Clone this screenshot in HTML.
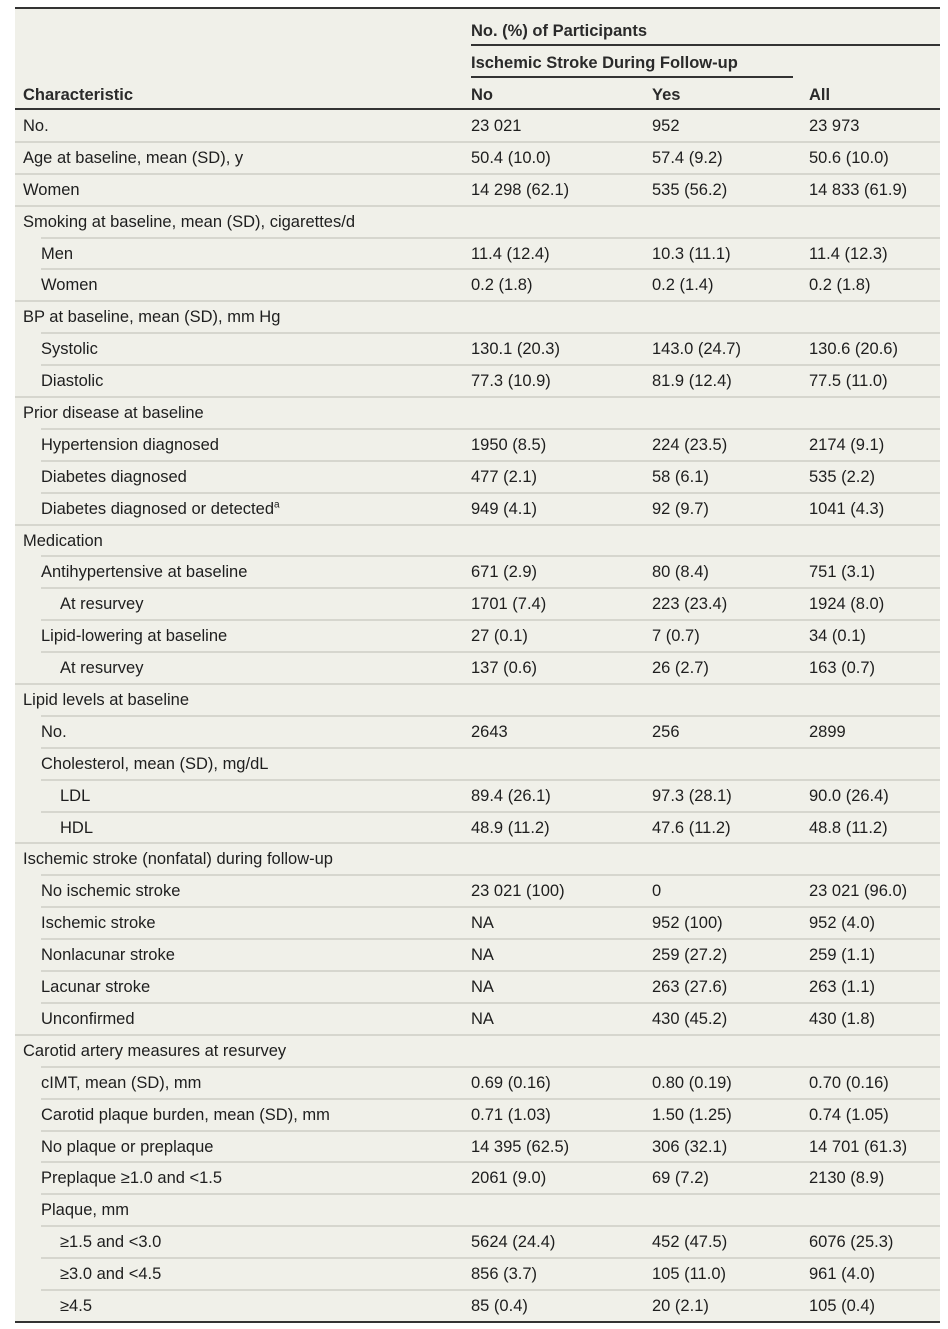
<!DOCTYPE html>
<html><head><meta charset="utf-8"><style>
body{margin:0;background:#fff;width:948px;height:1329px;position:relative;font-family:"Liberation Sans",sans-serif;color:#1e1e1e;}
#t{position:absolute;left:15px;top:7px;width:925px;height:1316px;background:#f0f0e9;border-top:2px solid #333;border-bottom:2px solid #333;box-sizing:border-box;}
.h{position:absolute;font-size:16.5px;font-weight:bold;color:#2a2a2a;white-space:nowrap;}
.hl{position:absolute;height:1.5px;background:#333;}
#rows{position:absolute;left:0;top:99px;width:925px;border-top:2px solid #333;}
.r{position:relative;height:31.9px;font-size:16.5px;line-height:31.9px;white-space:nowrap;}
.r::before{content:"";position:absolute;right:0;top:-1px;height:2px;background:#d6d6ce;left:0;}
.r.f::before{display:none;}
.r.l1::before,.r.l2::before{left:26px;}
.r span{position:absolute;top:1px;}
.c0{left:8px}.l1 .c0{left:26px}.l2 .c0{left:45px}
.c1{left:456px}.c2{left:637px}.c3{left:794px}
sup{font-size:10px;line-height:0;}
</style></head><body>
<div id="t">
<div class="h" style="left:456px;top:13px">No. (%) of Participants</div>
<div class="hl" style="left:456px;top:35px;width:469px"></div>
<div class="h" style="left:456px;top:45px">Ischemic Stroke During Follow-up</div>
<div class="hl" style="left:456px;top:67px;width:322px"></div>
<div class="h" style="left:8px;top:77px">Characteristic</div>
<div class="h" style="left:456px;top:77px">No</div>
<div class="h" style="left:637px;top:77px">Yes</div>
<div class="h" style="left:794px;top:77px">All</div>
<div id="rows">
<div class="r f"><span class="c0">No.</span><span class="c1">23 021</span><span class="c2">952</span><span class="c3">23 973</span></div>
<div class="r"><span class="c0">Age at baseline, mean (SD), y</span><span class="c1">50.4 (10.0)</span><span class="c2">57.4 (9.2)</span><span class="c3">50.6 (10.0)</span></div>
<div class="r"><span class="c0">Women</span><span class="c1">14 298 (62.1)</span><span class="c2">535 (56.2)</span><span class="c3">14 833 (61.9)</span></div>
<div class="r"><span class="c0">Smoking at baseline, mean (SD), cigarettes/d</span></div>
<div class="r l1"><span class="c0">Men</span><span class="c1">11.4 (12.4)</span><span class="c2">10.3 (11.1)</span><span class="c3">11.4 (12.3)</span></div>
<div class="r l1"><span class="c0">Women</span><span class="c1">0.2 (1.8)</span><span class="c2">0.2 (1.4)</span><span class="c3">0.2 (1.8)</span></div>
<div class="r"><span class="c0">BP at baseline, mean (SD), mm Hg</span></div>
<div class="r l1"><span class="c0">Systolic</span><span class="c1">130.1 (20.3)</span><span class="c2">143.0 (24.7)</span><span class="c3">130.6 (20.6)</span></div>
<div class="r l1"><span class="c0">Diastolic</span><span class="c1">77.3 (10.9)</span><span class="c2">81.9 (12.4)</span><span class="c3">77.5 (11.0)</span></div>
<div class="r"><span class="c0">Prior disease at baseline</span></div>
<div class="r l1"><span class="c0">Hypertension diagnosed</span><span class="c1">1950 (8.5)</span><span class="c2">224 (23.5)</span><span class="c3">2174 (9.1)</span></div>
<div class="r l1"><span class="c0">Diabetes diagnosed</span><span class="c1">477 (2.1)</span><span class="c2">58 (6.1)</span><span class="c3">535 (2.2)</span></div>
<div class="r l1"><span class="c0">Diabetes diagnosed or detected<sup>a</sup></span><span class="c1">949 (4.1)</span><span class="c2">92 (9.7)</span><span class="c3">1041 (4.3)</span></div>
<div class="r"><span class="c0">Medication</span></div>
<div class="r l1"><span class="c0">Antihypertensive at baseline</span><span class="c1">671 (2.9)</span><span class="c2">80 (8.4)</span><span class="c3">751 (3.1)</span></div>
<div class="r l2"><span class="c0">At resurvey</span><span class="c1">1701 (7.4)</span><span class="c2">223 (23.4)</span><span class="c3">1924 (8.0)</span></div>
<div class="r l1"><span class="c0">Lipid-lowering at baseline</span><span class="c1">27 (0.1)</span><span class="c2">7 (0.7)</span><span class="c3">34 (0.1)</span></div>
<div class="r l2"><span class="c0">At resurvey</span><span class="c1">137 (0.6)</span><span class="c2">26 (2.7)</span><span class="c3">163 (0.7)</span></div>
<div class="r"><span class="c0">Lipid levels at baseline</span></div>
<div class="r l1"><span class="c0">No.</span><span class="c1">2643</span><span class="c2">256</span><span class="c3">2899</span></div>
<div class="r l1"><span class="c0">Cholesterol, mean (SD), mg/dL</span></div>
<div class="r l2"><span class="c0">LDL</span><span class="c1">89.4 (26.1)</span><span class="c2">97.3 (28.1)</span><span class="c3">90.0 (26.4)</span></div>
<div class="r l2"><span class="c0">HDL</span><span class="c1">48.9 (11.2)</span><span class="c2">47.6 (11.2)</span><span class="c3">48.8 (11.2)</span></div>
<div class="r"><span class="c0">Ischemic stroke (nonfatal) during follow-up</span></div>
<div class="r l1"><span class="c0">No ischemic stroke</span><span class="c1">23 021 (100)</span><span class="c2">0</span><span class="c3">23 021 (96.0)</span></div>
<div class="r l1"><span class="c0">Ischemic stroke</span><span class="c1">NA</span><span class="c2">952 (100)</span><span class="c3">952 (4.0)</span></div>
<div class="r l1"><span class="c0">Nonlacunar stroke</span><span class="c1">NA</span><span class="c2">259 (27.2)</span><span class="c3">259 (1.1)</span></div>
<div class="r l1"><span class="c0">Lacunar stroke</span><span class="c1">NA</span><span class="c2">263 (27.6)</span><span class="c3">263 (1.1)</span></div>
<div class="r l1"><span class="c0">Unconfirmed</span><span class="c1">NA</span><span class="c2">430 (45.2)</span><span class="c3">430 (1.8)</span></div>
<div class="r"><span class="c0">Carotid artery measures at resurvey</span></div>
<div class="r l1"><span class="c0">cIMT, mean (SD), mm</span><span class="c1">0.69 (0.16)</span><span class="c2">0.80 (0.19)</span><span class="c3">0.70 (0.16)</span></div>
<div class="r l1"><span class="c0">Carotid plaque burden, mean (SD), mm</span><span class="c1">0.71 (1.03)</span><span class="c2">1.50 (1.25)</span><span class="c3">0.74 (1.05)</span></div>
<div class="r l1"><span class="c0">No plaque or preplaque</span><span class="c1">14 395 (62.5)</span><span class="c2">306 (32.1)</span><span class="c3">14 701 (61.3)</span></div>
<div class="r l1"><span class="c0">Preplaque ≥1.0 and &lt;1.5</span><span class="c1">2061 (9.0)</span><span class="c2">69 (7.2)</span><span class="c3">2130 (8.9)</span></div>
<div class="r l1"><span class="c0">Plaque, mm</span></div>
<div class="r l2"><span class="c0">≥1.5 and &lt;3.0</span><span class="c1">5624 (24.4)</span><span class="c2">452 (47.5)</span><span class="c3">6076 (25.3)</span></div>
<div class="r l2"><span class="c0">≥3.0 and &lt;4.5</span><span class="c1">856 (3.7)</span><span class="c2">105 (11.0)</span><span class="c3">961 (4.0)</span></div>
<div class="r l2"><span class="c0">≥4.5</span><span class="c1">85 (0.4)</span><span class="c2">20 (2.1)</span><span class="c3">105 (0.4)</span></div>
</div>
</div>
</body></html>
